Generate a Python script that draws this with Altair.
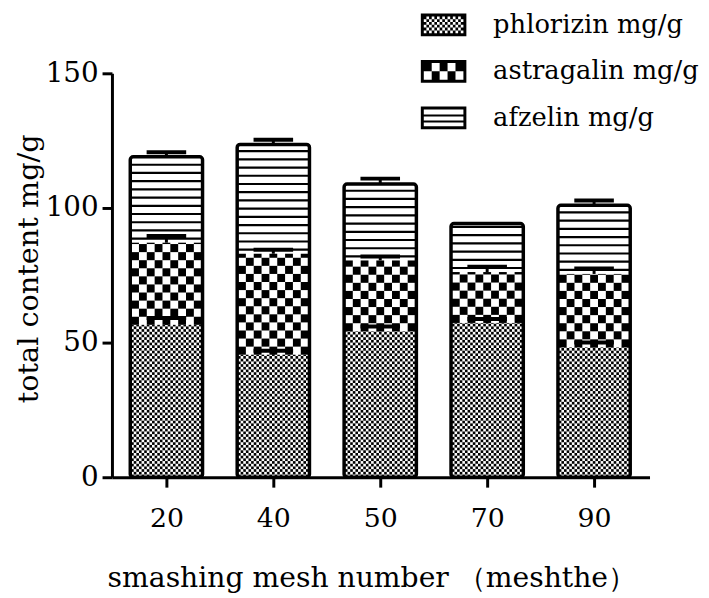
import altair as alt
import pandas as pd

# ---- data ----
mesh = ["20", "40", "50", "70", "90"]
series = ["phlorizin mg/g", "astragalin mg/g", "afzelin mg/g"]
phlorizin = [56.6, 45.5, 54.2, 57.3, 48.2]
astragalin = [30.5, 37.5, 26.3, 18.9, 27.3]
afzelin = [31.9, 40.6, 28.4, 18.0, 25.5]
phl_err = [2.5, 1.5, 1.8, 1.5, 1.8]
ast_err = [2.5, 1.5, 1.5, 2.0, 2.0]
afz_err = [1.7, 1.7, 2.0, 0.0, 1.8]
y_ticks = [0, 50, 100, 150]

FONT = "DejaVu Serif"
HALF = 0.338      # half bar width in x units (positions 1..5)
INNER = 0.33      # half width of pattern area
CAP = 0.185       # half width of error caps

pos = [i + 1 for i in range(len(mesh))]

# stacked extents
bars = []
for i, p in enumerate(pos):
    b0 = 0.0
    b1 = phlorizin[i]
    b2 = b1 + astragalin[i]
    b3 = b2 + afzelin[i]
    bars.append(dict(pos=p, mesh=mesh[i], b0=b0, b1=b1, b2=b2, b3=b3,
                     xl=p - HALF, xr=p + HALF))
bars_df = pd.DataFrame(bars)


def checker(p, y0, y1, ncols, cell_h):
    out = []
    xa = p - INNER
    w = 2 * INNER / ncols
    k = 0
    y = y0
    while y < y1 - 1e-9:
        yt = min(y + cell_h, y1)
        for j in range(ncols):
            if (j + k) % 2 == 0:
                out.append(dict(x=xa + j * w, x2=xa + (j + 1) * w, y=y, y2=yt))
        k += 1
        y += cell_h
    return out


fine, coarse, stripes = [], [], []
for b in bars:
    fine += checker(b["pos"], b["b0"], b["b1"], 27, 1.0)
    coarse += checker(b["pos"], b["b1"], b["b2"], 9, 3.0)
    yy = b["b2"] + 1.5
    while yy < b["b3"] - 0.8:
        stripes.append(dict(x=b["pos"] - INNER, x2=b["pos"] + INNER, y=yy))
        yy += 3.05
fine_df = pd.DataFrame(fine)
coarse_df = pd.DataFrame(coarse)
stripe_df = pd.DataFrame(stripes)

errs = []
for i, b in enumerate(bars):
    for top, e in ((b["b1"], phl_err[i]), (b["b2"], ast_err[i]), (b["b3"], afz_err[i])):
        if e > 0:
            errs.append(dict(pos=b["pos"], v=top, hi=top + e,
                             cl=b["pos"] - CAP, cr=b["pos"] + CAP))
err_df = pd.DataFrame(errs)

legend_df = pd.DataFrame({"pos": pos[:3], "zero": [0, 0, 0], "series": series})

# ---- legend symbol paths (unit box, x in [-1,1], y in [-0.5,0.5]) ----
T = 0.13
ring = ("M-1,-0.5H1V0.5H-1Z"
        f"M{-1+T},{-0.5+T}V{0.5-T}H{1-T}V{-0.5+T}Z")


def cells_path(nc, nr):
    x0, x1 = -1 + T, 1 - T
    y0, y1 = -0.5 + T, 0.5 - T
    w = (x1 - x0) / nc
    h = (y1 - y0) / nr
    s = ""
    for r in range(nr):
        for c in range(nc):
            if (r + c) % 2 == 0:
                s += f"M{x0+c*w:.3f},{y0+r*h:.3f}h{w:.3f}v{h:.3f}h{-w:.3f}Z"
    return s


def lines_path():
    x0, x1 = -1 + T, 1 - T
    s = ""
    for yc in (-0.1, 0.16):
        s += f"M{x0},{yc-0.045}H{x1}V{yc+0.045}H{x0}Z"
    return s


shapes = [ring + cells_path(15, 6), ring + cells_path(5, 2), ring + lines_path()]

xscale = alt.Scale(domain=[0.4907, 5.5185], nice=False, zero=False)
yscale = alt.Scale(domain=[0, 150], nice=False)

label_expr = "[" + ",".join(f"'{m}'" for m in mesh) + "][datum.value-1]"

x_axis = alt.Axis(values=pos, labelExpr=label_expr, title="smashing mesh number （meshthe）",
                  grid=False, domainWidth=3, tickWidth=3, tickSize=10,
                  labelFontSize=27, labelPadding=19, labelFont=FONT,
                  titleFont=FONT, titleFontSize=28.5, titleFontWeight="normal",
                  titleX=262, titleY=101, titleBaseline="middle")
y_axis = alt.Axis(values=y_ticks, title="total content mg/g", grid=False,
                  domainWidth=3, tickWidth=3, tickSize=10, labelFontSize=28,
                  labelPadding=4, labelFont=FONT, titleFont=FONT, titleFontSize=29,
                  titleFontWeight="normal", titleX=-84, titleY=197,
                  titleBaseline="middle", titleAngle=-90)

fine_l = alt.Chart(fine_df).mark_rect(fill="black", strokeWidth=0).encode(
    x=alt.X("x:Q", scale=xscale, axis=x_axis), x2="x2:Q",
    y=alt.Y("y:Q", scale=yscale, axis=y_axis), y2="y2:Q")

coarse_l = alt.Chart(coarse_df).mark_rect(fill="black", strokeWidth=0).encode(
    x="x:Q", x2="x2:Q", y="y:Q", y2="y2:Q")

stripe_l = alt.Chart(stripe_df).mark_rule(color="black", strokeWidth=2.2).encode(
    x="x:Q", x2="x2:Q", y="y:Q")

stem_l = alt.Chart(err_df).mark_rule(color="black", strokeWidth=3).encode(
    x="pos:Q", y="v:Q", y2="hi:Q")
cap_l = alt.Chart(err_df).mark_rule(color="black", strokeWidth=4).encode(
    x="cl:Q", x2="cr:Q", y="hi:Q")

outline_l = alt.Chart(bars_df).mark_rect(fill=None, fillOpacity=0, stroke="black",
                                         strokeWidth=3.5, cornerRadius=3).encode(
    x="xl:Q", x2="xr:Q", y="b0:Q", y2="b3:Q")

legend_l = alt.Chart(legend_df).mark_point(filled=True, fill="black", opacity=0,
                                           strokeWidth=0, size=10).encode(
    x="pos:Q", y="zero:Q",
    shape=alt.Shape("series:N", scale=alt.Scale(domain=series, range=shapes),
                    legend=alt.Legend(title=None, orient="none", legendX=312, legendY=-72,
                                      symbolSize=2116, symbolOpacity=1,
                                      symbolFillColor="black", symbolStrokeWidth=0,
                                      labelFont=FONT, labelFontSize=26, labelColor="black",
                                      labelOffset=27, rowPadding=11, padding=0,
                                      labelLimit=400)))

chart = alt.layer(fine_l, coarse_l, stripe_l, stem_l, cap_l, outline_l, legend_l).properties(
    width=543, height=408,
    autosize=alt.AutoSizeParams(type="none"),
    padding={"left": 105, "top": 63, "right": 52, "bottom": 119},
).configure_view(stroke=None).configure_axis(
    domainColor="black", tickColor="black", labelColor="black", titleColor="black")

chart.save("out.html", embed_options={"renderer": "svg", "actions": False})
